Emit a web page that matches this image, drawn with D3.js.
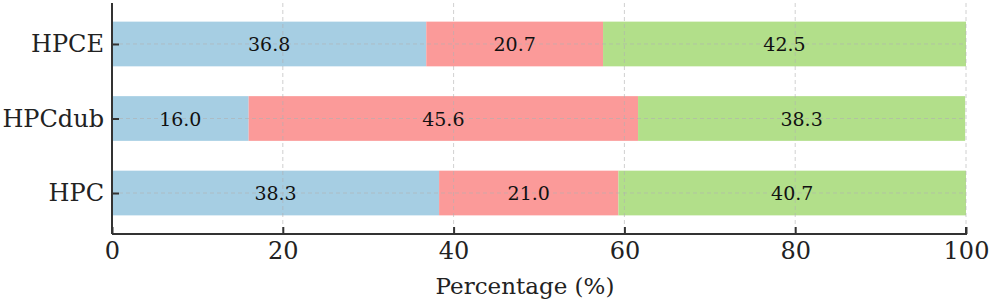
<!DOCTYPE html>
<html><head><meta charset="utf-8">
<script src="https://cdn.jsdelivr.net/npm/d3@7/dist/d3.min.js"></script>
<style>body{margin:0;background:#fff}svg{display:block}</style>
</head><body><svg id="c" width="995" height="305"></svg>
<script>
const categories = ["HPC", "HPCdub", "HPCE"];
const seriesA = [38.3, 16.0, 36.8];
const seriesB = [21.0, 45.6, 20.7];
const seriesC = [40.7, 38.3, 42.5];
const colors = ["#a6cee3", "#fb9a99", "#b2df8a"];
const xTicks = [0, 20, 40, 60, 80, 100];

const svg = d3.select("#c");
const L = 112, R = 966, T = 3, B = 234;
const x = d3.scaleLinear().domain([0, 100]).range([L, R]);
const y = d3.scaleLinear().domain([-0.55, 2.55]).range([B, T]);
const bh = (y(0) - y(0.6));
const font = "DejaVu Serif";

const series = [seriesA, seriesB, seriesC];
const rows = categories.map((c, i) => {
  let acc = 0;
  return series.map((s, k) => { const d = {cat: c, i, k, x0: acc, v: s[i]}; acc += s[i]; return d; });
}).flat();

svg.append("g").selectAll("rect").data(rows).join("rect")
  .attr("x", d => x(d.x0)).attr("width", d => x(d.x0 + d.v) - x(d.x0))
  .attr("y", d => y(d.i) - bh / 2).attr("height", bh)
  .attr("fill", d => colors[d.k]);

// grid
const g = svg.append("g").attr("stroke", "#b0b0b0").attr("stroke-opacity", 0.6)
  .attr("stroke-dasharray", "4,3").attr("stroke-width", 1);
g.selectAll("line.v").data(xTicks).join("line").attr("class", "v")
  .attr("x1", d => x(d)).attr("x2", d => x(d)).attr("y1", T).attr("y2", B);
g.selectAll("line.h").data(categories).join("line").attr("class", "h")
  .attr("x1", L).attr("x2", R).attr("y1", (d, i) => y(i)).attr("y2", (d, i) => y(i));

// labels
svg.append("g").selectAll("text").data(rows).join("text")
  .attr("x", d => x(d.x0 + d.v / 2)).attr("y", d => y(d.i))
  .attr("text-anchor", "middle").attr("dominant-baseline", "central")
  .attr("font-family", font).attr("font-size", 19).attr("fill", "#111")
  .text(d => d.v.toFixed(1));

// axes
const xAxis = d3.axisBottom(x).tickValues(xTicks).tickSize(-7).tickPadding(8).tickFormat(d3.format("d"));
const xa = svg.append("g").attr("transform", `translate(0,${B})`).call(xAxis);
const yAxis = d3.axisLeft(y).tickValues([0, 1, 2]).tickSize(-7).tickPadding(8).tickFormat(i => categories[i]);
const ya = svg.append("g").attr("transform", `translate(${L},0)`).call(yAxis);
[xa, ya].forEach(a => {
  a.select(".domain").attr("stroke", "#333").attr("stroke-width", 2).attr("d", null);
  a.selectAll(".tick line").attr("stroke", "#333").attr("stroke-width", 2);
  a.selectAll(".tick text").attr("font-family", font).attr("font-size", 24).attr("fill", "#222");
});
xa.select(".domain").attr("d", `M${L},0H${R}V-7`);
ya.select(".domain").attr("d", `M0,${T}V${B}`);

svg.append("text").attr("x", 525).attr("y", 286).attr("text-anchor", "middle")
  .attr("dominant-baseline", "central").attr("font-family", font).attr("font-size", 23)
  .attr("fill", "#222").text("Percentage (%)");
</script></body></html>
